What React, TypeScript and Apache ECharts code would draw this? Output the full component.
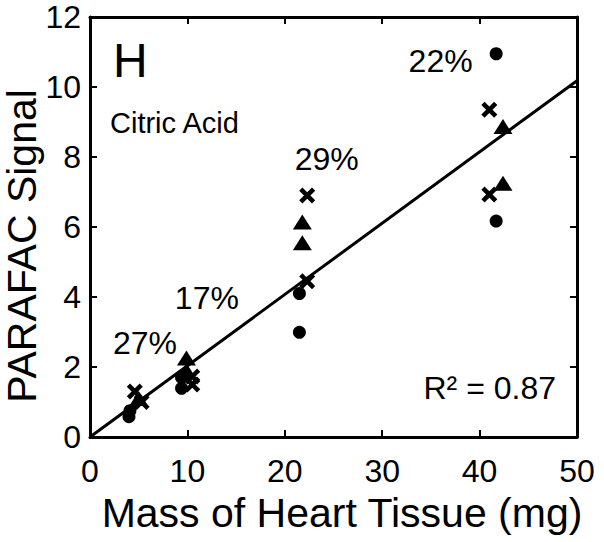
import React, { useEffect, useRef } from "react";
import * as echarts from "echarts";

const xTicks = [0, 10, 20, 30, 40, 50];
const yTicks = [0, 2, 4, 6, 8, 10, 12];

const circlePts: [number, number][] = [
  [4.0, 0.58], [4.1, 0.75], [9.4, 1.39], [9.4, 1.7],
  [21.5, 4.1], [21.5, 2.99], [41.7, 10.95], [41.7, 6.17],
];
const crossPts: [number, number][] = [
  [4.6, 1.3], [5.3, 1.0], [10.5, 1.73], [10.5, 1.5],
  [22.3, 6.9], [22.3, 4.45], [41.0, 9.35], [41.0, 6.93],
];
const trianglePts: [number, number][] = [
  [5.0, 1.1], [9.9, 2.26], [9.9, 1.9],
  [21.8, 6.14], [21.8, 5.55], [42.4, 8.87], [42.4, 7.25],
];
const fitLine: [number, number][] = [[0, 0], [50, 10.18]];

const annotations = [
  { text: "27%", x: 5.65, y: 2.69 },
  { text: "17%", x: 12.0, y: 3.98 },
  { text: "29%", x: 24.3, y: 7.94 },
  { text: "22%", x: 36.0, y: 10.74 },
];

const crossPath =
  "path://M0,4 L4,0 L10,6 L16,0 L20,4 L14,10 L20,16 L16,20 L10,14 L4,20 L0,16 L6,10 Z";

const FONT = "Liberation Sans, Arial, Helvetica, sans-serif";

export default function App() {
  const ref = useRef<HTMLDivElement>(null);
  useEffect(() => {
    const chart = echarts.init(ref.current!, null, { renderer: "svg" });
    const axisCommon = {
      type: "value" as const,
      axisLine: { show: true, onZero: false, lineStyle: { color: "#000", width: 3 } },
      axisTick: { show: true, inside: true, length: 7, lineStyle: { color: "#000", width: 2 } },
      splitLine: { show: false },
    };
    chart.setOption({
      animation: false,
      backgroundColor: "#fff",
      grid: { left: 90, right: 27, top: 17, bottom: 105 },
      xAxis: [
        {
          ...axisCommon,
          min: xTicks[0], max: xTicks[xTicks.length - 1], interval: 10,
          axisLabel: { color: "#000", fontSize: 32, fontFamily: FONT, margin: 18 },
        },
        {
          ...axisCommon,
          position: "top",
          min: xTicks[0], max: xTicks[xTicks.length - 1], interval: 10,
          axisLabel: { show: false },
        },
      ],
      yAxis: [
        {
          ...axisCommon,
          min: yTicks[0], max: yTicks[yTicks.length - 1], interval: 2,
          axisLabel: { color: "#000", fontSize: 32, fontFamily: FONT, margin: 9 },
        },
        {
          ...axisCommon,
          position: "right",
          min: yTicks[0], max: yTicks[yTicks.length - 1], interval: 2,
          axisLabel: { show: false },
        },
      ],
      series: [
        {
          type: "line",
          data: fitLine,
          symbol: "none",
          lineStyle: { color: "#000", width: 3 },
          z: 1,
        },
        {
          type: "scatter",
          data: circlePts,
          symbol: "circle",
          symbolSize: 13,
          itemStyle: { color: "#000", opacity: 1 },
          z: 3,
        },
        {
          type: "scatter",
          data: crossPts,
          symbol: crossPath,
          symbolSize: 16,
          itemStyle: { color: "#000", opacity: 1 },
          z: 3,
        },
        {
          type: "scatter",
          data: trianglePts,
          symbol: "triangle",
          symbolSize: [19, 15],
          itemStyle: { color: "#000", opacity: 1 },
          z: 3,
        },
        {
          type: "scatter",
          data: annotations.map((a) => ({ value: [a.x, a.y], name: a.text })),
          symbolSize: 0,
          itemStyle: { opacity: 1 },
          label: {
            show: true,
            position: "inside",
            formatter: "{b}",
            color: "#000",
            fontSize: 32,
            fontFamily: FONT,
          },
          silent: true,
          z: 4,
        },
      ],
      graphic: [
        { type: "text", left: 113, top: 36, style: { text: "H", fontSize: 48, fontFamily: FONT, fill: "#000" } },
        { type: "text", left: 110, top: 108, style: { text: "Citric Acid", fontSize: 29, fontFamily: FONT, fill: "#000" } },
        {
          type: "text",
          x: 556, y: 388,
          style: { text: "R² = 0.87", fontSize: 32, fontFamily: FONT, fill: "#000", align: "right", verticalAlign: "middle" },
        },
        {
          type: "text",
          x: 342, y: 513,
          style: { text: "Mass of Heart Tissue (mg)", fontSize: 41, fontFamily: FONT, fill: "#000", align: "center", verticalAlign: "middle" },
        },
        {
          type: "text",
          x: 22, y: 246,
          rotation: Math.PI / 2,
          style: { text: "PARAFAC Signal", fontSize: 41, fontFamily: FONT, fill: "#000", align: "center", verticalAlign: "middle" },
        },
      ],
    });
    return () => chart.dispose();
  }, []);
  return (
    <div
      ref={ref}
      style={{ position: "absolute", left: 0, top: 0, width: 604, height: 542 }}
    />
  );
}
